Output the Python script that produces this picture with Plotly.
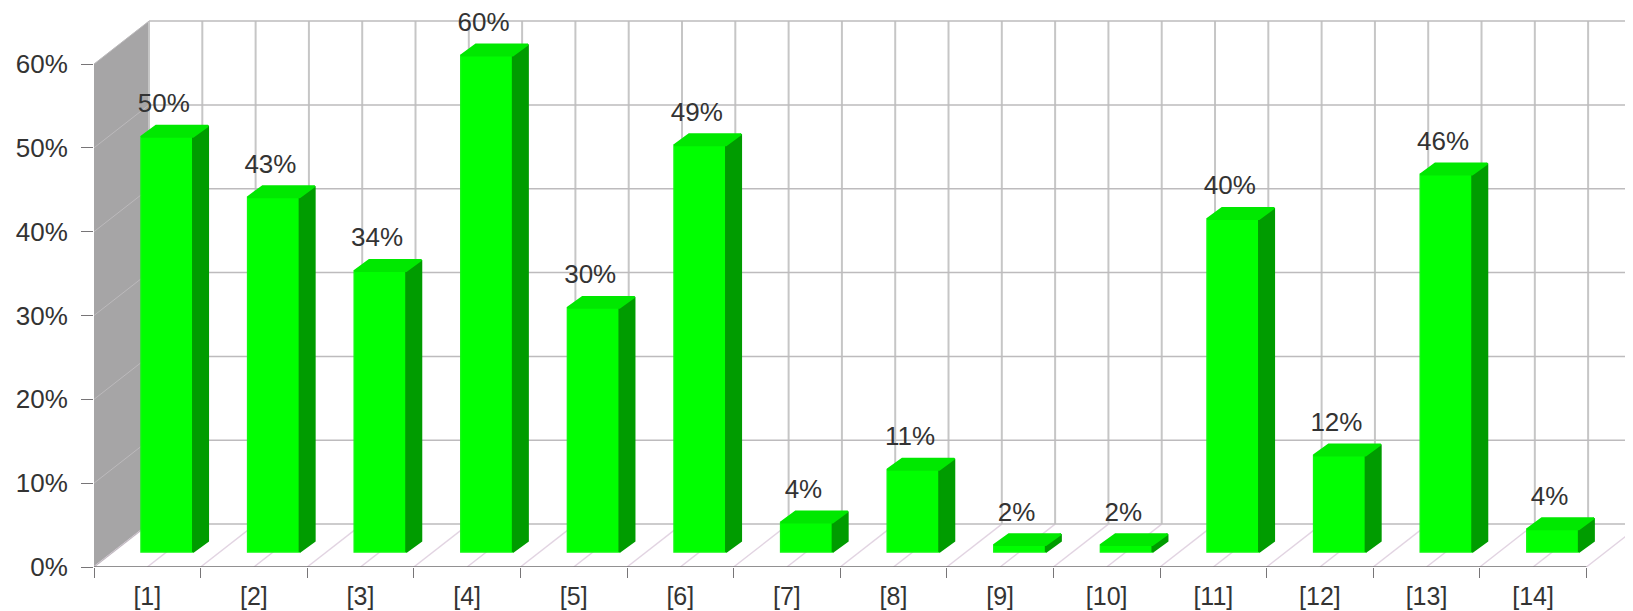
import plotly.graph_objects as go

categories = ["[1]", "[2]", "[3]", "[4]", "[5]", "[6]", "[7]", "[8]", "[9]", "[10]", "[11]", "[12]", "[13]", "[14]"]
labels = ["50%", "43%", "34%", "60%", "30%", "49%", "4%", "11%", "2%", "2%", "40%", "12%", "46%", "4%"]
values = [50, 42.8, 34, 59.7, 29.6, 49, 4, 10.3, 1.3, 1.3, 40.2, 12, 45.5, 3.2]
y_ticks = [0, 10, 20, 30, 40, 50, 60]

FONT = "Liberation Sans, Arial, sans-serif"
WALL_DX, WALL_DY = 0.516, 5.12      # depth of the room in axis units
BAR_DX, BAR_DY = 0.141, 1.31        # depth of a bar in axis units
BAR_LEFT, BAR_W = 0.441, 0.488      # bar front face within its category
BAR_BASE, BAR_LIFT = 1.79, 1.31
LABEL_LIFT = 0.85
n = len(categories)

shapes = []
def line(x0, y0, x1, y1, color, width):
    shapes.append(dict(type="line", xref="x", yref="y", layer="below", x0=x0, y0=y0, x1=x1, y1=y1,
                       line=dict(color=color, width=width)))

# left wall
shapes.append(dict(type="path", xref="x", yref="y", layer="below", line=dict(width=0), fillcolor="#a6a5a6",
                   path=f"M 0 0 L {WALL_DX} {WALL_DY} L {WALL_DX} {60 + WALL_DY} L 0 60 Z"))
# back wall
for k in range(2 * n + 1):
    xb = WALL_DX + k / 2
    line(xb, WALL_DY, xb, 60 + WALL_DY, "#c6c6c6", 2)
    line(k / 2, 0, xb, WALL_DY, "#e2d4e2", 1.4)
for t in y_ticks:
    line(WALL_DX, t + WALL_DY, n + 1, t + WALL_DY, "#bdbbbd", 1.5)
    line(0, t, WALL_DX, t + WALL_DY, "#bcbabc", 1)
# front axis
line(0, 0, n, 0, "#6e6c6e", 1.6)

fig = go.Figure()
xl = [i + BAR_LEFT for i in range(n)]
xr = [x + BAR_W for x in xl]
top = [v + BAR_LIFT for v in values]

fig.add_trace(go.Bar(x=[x + BAR_W / 2 for x in xl], y=[t - BAR_BASE for t in top], base=BAR_BASE,
                     width=BAR_W, marker=dict(color="#00ff00", line=dict(width=1.5, color="#10f810")),
                     showlegend=False))

for i in range(n):
    fig.add_trace(go.Scatter(
        x=[xr[i], xr[i] + BAR_DX, xr[i] + BAR_DX, xr[i], xr[i]],
        y=[BAR_BASE, BAR_BASE + BAR_DY, top[i] + BAR_DY, top[i], BAR_BASE],
        mode="lines", fill="toself", fillcolor="#009c00", line=dict(width=2, color="#009c00"), showlegend=False))
    fig.add_trace(go.Scatter(
        x=[xl[i], xl[i] + BAR_DX, xr[i] + BAR_DX, xr[i], xl[i]],
        y=[top[i], top[i] + BAR_DY, top[i] + BAR_DY, top[i], top[i]],
        mode="lines", fill="toself", fillcolor="#00e800", line=dict(width=2, color="#00e800"), showlegend=False))

fig.add_trace(go.Scatter(
    x=[x + BAR_W / 2 - 0.03 for x in xl], y=[t + BAR_DY + LABEL_LIFT for t in top],
    mode="text", text=labels, textposition="top center",
    textfont=dict(family=FONT, size=26, color="#333333"), showlegend=False, cliponaxis=False))

fig.update_layout(
    width=1625, height=603, autosize=False,
    margin=dict(l=86, r=0, t=0, b=44),
    paper_bgcolor="white", plot_bgcolor="white",
    shapes=shapes, showlegend=False,
    xaxis=dict(range=[0, 14.437], showgrid=False, zeroline=False, showline=False,
               tickmode="array", tickvals=[i + 0.5 for i in range(n)], ticktext=categories,
               ticks="", ticklabelstandoff=12,
               tickfont=dict(family=FONT, size=25, color="#333333"),
               minor=dict(tickmode="array", tickvals=list(range(n + 1)), ticks="outside",
                          ticklen=10, tickwidth=1.4, tickcolor="#777577", showgrid=False)),
    yaxis=dict(range=[0, 66.68], showgrid=False, zeroline=False, showline=False,
               tickmode="array", tickvals=y_ticks, ticktext=[f"{t}%" for t in y_ticks],
               ticks="outside", ticklen=12, tickwidth=1.4, tickcolor="#777577", ticklabelstandoff=8,
               tickfont=dict(family=FONT, size=26, color="#333333")),
)

fig.write_html("out.html")
